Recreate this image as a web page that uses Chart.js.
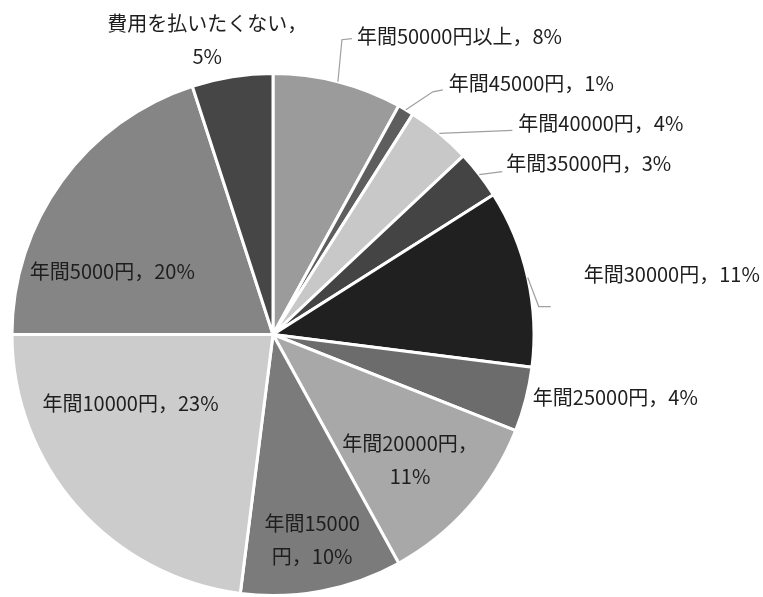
<!DOCTYPE html>
<html lang="ja">
<head>
<meta charset="utf-8">
<script src="https://cdn.jsdelivr.net/npm/chart.js@4/dist/chart.umd.min.js"></script>
<style>
  html, body { margin: 0; padding: 0; background: #fff; }
  #wrap { width: 763px; height: 597px; position: relative; }
</style>
</head>
<body>
<div id="wrap"><canvas id="pie"></canvas></div>
<script>
// --- データ ---
const categories = [
    '年間50000円以上', '年間45000円', '年間40000円', '年間35000円', '年間30000円',
    '年間25000円', '年間20000円', '年間15000円', '年間10000円', '年間5000円', '費用を払いたくない'
];
const shares = [8, 1, 4, 3, 11, 4, 11, 10, 23, 20, 5];
const sliceColors = [
    '#9b9b9b', '#5e5e5e', '#c8c8c8', '#444444', '#202020',
    '#6c6c6c', '#a8a8a8', '#7b7b7b', '#cccccc', '#858585', '#464646'
];

// ラベルの配置 (k = 半径に対する割合, dx/dy = ずれ, lines = 改行)
const labelLayout = [
    { k: 1, dx: 19, dy: -45, align: 'left', leader: [[4, -42], 'end'], endOff: [-5, 2] },
    { k: 1, dx: 43, dy: -26, align: 'left', leader: [[27, -18], 'end'], endOff: [-6, 6] },
    { k: 1, dx: 79, dy: -10, align: 'left', leader: ['end'], endOff: [-6, 7] },
    { k: 1, dx: 27, dy: -11, align: 'left', leader: ['end'], endOff: [-4, 8] },
    { k: 1, dx: 56, dy: -3, align: 'left', leader: [[11, 29], 'end'], endOff: [-33, 32] },
    { k: 1, dx: 7, dy: -2, align: 'left' },
    { k: 0.71, dx: -2, dy: 3, align: 'center', split: true },
    { k: 0.80, dx: 0, dy: 0, align: 'center', split: 'mid' },
    { k: 0.6, dx: -25, dy: -35, align: 'center' },
    { k: 0.6, dx: -34, dy: 29, align: 'center' },
    { k: 1, dx: -25, dy: -37, align: 'center', split: true }
];

function labelLines(i) {
    const name = categories[i], pct = shares[i] + '%';
    const cfg = labelLayout[i];
    if (cfg.split === 'mid') return ['年間15000', '円，' + pct];
    if (cfg.split) return [name + '，', pct];
    return [name + '，' + pct];
}

// --- ラベル描画プラグイン ---
const pieLabels = {
    id: 'pieLabels',
    afterDatasetsDraw(chart) {
        const ctx = chart.ctx;
        const arcs = chart.getDatasetMeta(0).data;
        ctx.save();
        ctx.font = '20px "Noto Sans CJK JP", sans-serif';
        ctx.textBaseline = 'middle';
        arcs.forEach((arc, i) => {
            const cfg = labelLayout[i];
            const mid = (arc.startAngle + arc.endAngle) / 2;
            const r = arc.outerRadius;
            const edge = { x: arc.x + Math.cos(mid) * r, y: arc.y + Math.sin(mid) * r };
            const base = { x: arc.x + Math.cos(mid) * r * cfg.k, y: arc.y + Math.sin(mid) * r * cfg.k };
            const tx = base.x + cfg.dx, ty = base.y + cfg.dy;

            if (cfg.leader) {
                ctx.strokeStyle = '#a0a0a0';
                ctx.lineWidth = 1.2;
                ctx.beginPath();
                ctx.moveTo(edge.x, edge.y);
                cfg.leader.forEach(p => {
                    if (p === 'end') ctx.lineTo(tx + cfg.endOff[0], ty + cfg.endOff[1]);
                    else ctx.lineTo(edge.x + p[0], edge.y + p[1]);
                });
                ctx.stroke();
            }

            const lines = labelLines(i);
            const lh = 33;
            ctx.fillStyle = '#1e1e1e';
            ctx.textAlign = cfg.align;
            lines.forEach((t, j) => {
                ctx.fillText(t, tx, ty + (j - (lines.length - 1) / 2) * lh);
            });
        });
        ctx.restore();
    }
};

new Chart(document.getElementById('pie'), {
    type: 'pie',
    data: {
        labels: categories,
        datasets: [{
            data: shares,
            backgroundColor: sliceColors,
            borderColor: '#ffffff',
            borderWidth: 3
        }]
    },
    options: {
        responsive: true,
        maintainAspectRatio: false,
        animation: false,
        layout: { padding: { left: 10, top: 72, right: 227, bottom: 0 } },
        plugins: {
            legend: { display: false },
            tooltip: { enabled: false }
        }
    },
    plugins: [pieLabels]
});
</script>
</body>
</html>
